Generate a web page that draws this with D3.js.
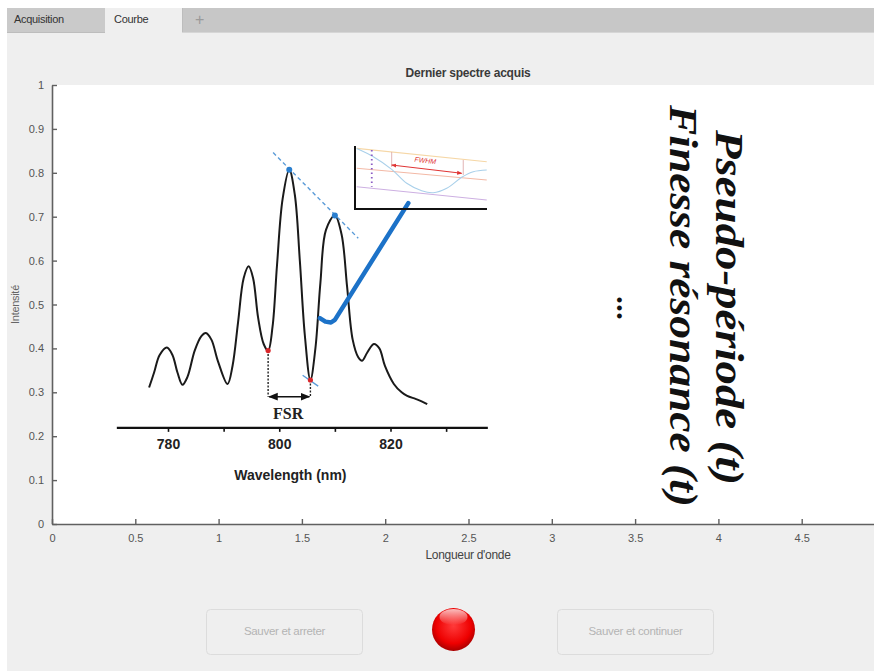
<!DOCTYPE html>
<html><head><meta charset="utf-8">
<script src="https://cdn.jsdelivr.net/npm/d3@7"></script>
<style>html,body{margin:0;padding:0;background:#fff;} svg{display:block;}</style>
</head><body><svg id="c" width="874" height="671"></svg>
<script>
// ---------- data ----------
const tabs = ["Acquisition", "Courbe", "+"];
const chartTitle = "Dernier spectre acquis";
const xLabel = "Longueur d'onde";
const yLabel = "Intensité";
const xTicks = [0, 0.5, 1, 1.5, 2, 2.5, 3, 3.5, 4, 4.5];
const yTicks = [0, 0.1, 0.2, 0.3, 0.4, 0.5, 0.6, 0.7, 0.8, 0.9, 1];

// inset spectrum (wavelength nm, intensity on main axis units)
const wavelength = [776.6, 777.5, 778.5, 779.8, 780.8, 781.7, 782.6, 783.5, 784.8, 786.0, 786.8, 787.8, 789.0, 790.7,
  791.6, 792.6, 793.6, 794.5, 795.3, 796.2, 797.2, 798.0, 798.8, 799.6, 800.6, 801.8, 802.8, 803.7, 804.6, 805.6,
  806.5, 807.4, 808.4, 810.0, 811.2, 812.2, 813.2, 814.2, 814.9, 815.8, 817.0, 818.0, 819.0, 820.6, 822.0, 823.0,
  824.5, 825.5, 826.6];
const intensity = [0.311, 0.345, 0.385, 0.402, 0.385, 0.345, 0.317, 0.335, 0.395, 0.428, 0.435, 0.420, 0.370, 0.319,
  0.360, 0.460, 0.560, 0.587, 0.560, 0.470, 0.410, 0.395, 0.450, 0.590, 0.740, 0.807, 0.750, 0.600, 0.430, 0.328,
  0.400, 0.550, 0.670, 0.703, 0.660, 0.540, 0.420, 0.380, 0.372, 0.390, 0.410, 0.400, 0.360, 0.319, 0.300, 0.292,
  0.285, 0.280, 0.273];
const insetTicks = [780, 790, 800, 810, 820, 830];
const insetTickLabels = ["780", "", "800", "", "820", ""];
const insetXLabel = "Wavelength (nm)";
const troughX = [798.0, 805.6];
const troughY = [0.395, 0.328];
const peakX = [801.8, 810.0];
const peakY = [0.807, 0.703];
const fsrLabel = "FSR";
const fwhmLabel = "FWHM";
const annotations = ["Pseudo-période (t)", "Finesse résonance (t)", "..."];
const buttons = ["Sauver et arreter", "Sauver et continuer"];

// ---------- drawing ----------
const svg = d3.select("#c");
const defs = svg.append("defs");

// background panel
svg.append("rect").attr("x", 0).attr("y", 0).attr("width", 874).attr("height", 671).attr("fill", "#ffffff");
svg.append("rect").attr("x", 7).attr("y", 8).attr("width", 867).attr("height", 663).attr("fill", "#efefef");
// tab bar
svg.append("rect").attr("x", 7).attr("y", 8).attr("width", 867).attr("height", 24).attr("fill", "#c7c7c7");
svg.append("rect").attr("x", 7).attr("y", 8).attr("width", 98).attr("height", 24).attr("fill", "#cacaca");
svg.append("rect").attr("x", 105).attr("y", 8).attr("width", 77).attr("height", 25).attr("fill", "#efefef");
svg.append("line").attr("x1", 182.5).attr("x2", 182.5).attr("y1", 8).attr("y2", 32).attr("stroke", "#bdbdbd");
svg.append("line").attr("x1", 7).attr("x2", 105).attr("y1", 32.5).attr("y2", 32.5).attr("stroke", "#bdbdbd");
svg.append("line").attr("x1", 182).attr("x2", 874).attr("y1", 32.5).attr("y2", 32.5).attr("stroke", "#d6d6d6");
const tabX = [14, 114, 195];
const tabColor = ["#333", "#333", "#9a9a9a"];
const tabSize = [11, 11, 16];
tabs.forEach((t, i) => {
  svg.append("text").attr("x", tabX[i]).attr("y", i === 2 ? 25 : 23).text(t)
    .attr("font-family", "Liberation Sans, Arial, sans-serif").attr("font-size", tabSize[i])
    .attr("fill", tabColor[i]).attr("letter-spacing", i === 2 ? 0 : -0.3);
});

// main axes
const x = d3.scaleLinear().domain([0, 5]).range([52, 885]);
const y = d3.scaleLinear().domain([0, 1]).range([524, 85]);
svg.append("rect").attr("x", x(0)).attr("y", y(1)).attr("width", 874 - x(0)).attr("height", y(0) - y(1)).attr("fill", "#ffffff");

svg.append("text").attr("x", 468).attr("y", 77).attr("text-anchor", "middle")
  .attr("font-family", "Liberation Sans, Arial, sans-serif").attr("font-size", 12).attr("font-weight", "bold")
  .attr("fill", "#3a3a3a").attr("letter-spacing", -0.2).text(chartTitle);

const fmt = d => String(d);
const gx = svg.append("g").attr("transform", `translate(0,${y(0)})`)
  .call(d3.axisBottom(x).tickValues(xTicks).tickSizeInner(-5).tickSizeOuter(0).tickPadding(8).tickFormat(fmt));
const gy = svg.append("g").attr("transform", `translate(${x(0)},0)`)
  .call(d3.axisLeft(y).tickValues(yTicks).tickSizeInner(-5).tickSizeOuter(0).tickPadding(8).tickFormat(fmt));
[gx, gy].forEach(g => {
  g.select(".domain").attr("stroke", "#606060").attr("stroke-width", 1.6);
  g.selectAll(".tick line").attr("stroke", "#606060").attr("stroke-width", 1.4);
  g.selectAll(".tick text").attr("fill", "#555").attr("font-size", 11)
    .attr("font-family", "Liberation Sans, Arial, sans-serif");
});
gx.selectAll(".tick text").attr("dy", "0.9em");

svg.append("text").attr("x", 468).attr("y", 559).attr("text-anchor", "middle")
  .attr("font-family", "Liberation Sans, Arial, sans-serif").attr("font-size", 12)
  .attr("fill", "#444").attr("letter-spacing", -0.3).text(xLabel);
svg.append("text").attr("transform", `translate(19,${y(0.5)}) rotate(-90)`).attr("text-anchor", "middle")
  .attr("font-family", "Liberation Sans, Arial, sans-serif").attr("font-size", 11)
  .attr("fill", "#666").attr("letter-spacing", -0.3).text(yLabel);

// ---------- inset spectrum ----------
const xi = d3.scaleLinear().domain([780, 820]).range([168, 390.5]);
const ins = svg.append("g");

// inset axis
const gi = ins.append("g").attr("transform", `translate(0,${y(0.219)})`)
  .call(d3.axisBottom(xi).tickValues(insetTicks).tickSizeInner(4).tickSizeOuter(0).tickPadding(7)
    .tickFormat((d, i) => insetTickLabels[i]));
gi.select(".domain").attr("d", `M${xi(770.8)},0H${xi(837.5)}`).attr("stroke", "#111").attr("stroke-width", 2.2);
gi.selectAll(".tick line").attr("stroke", "#111").attr("stroke-width", 1.6);
gi.selectAll(".tick text").attr("fill", "#222").attr("font-size", 14).attr("font-weight", "bold")
  .attr("font-family", "Liberation Sans, Arial, sans-serif");
ins.append("text").attr("x", xi(802)).attr("y", y(0.219) + 52).attr("text-anchor", "middle")
  .attr("font-family", "Liberation Sans, Arial, sans-serif").attr("font-size", 14).attr("font-weight", "bold")
  .attr("fill", "#222").text(insetXLabel);

// spectrum line
const pts = wavelength.map((w, i) => [w, intensity[i]]);
ins.append("path").datum(pts)
  .attr("d", d3.line().x(d => xi(d[0])).y(d => y(d[1])).curve(d3.curveCatmullRom.alpha(0.5)))
  .attr("fill", "none").attr("stroke", "#1a1a1a").attr("stroke-width", 2).attr("stroke-linejoin", "round");

// FSR construction
const fsrY = 0.29;
troughX.forEach((t, i) => {
  ins.append("line").attr("x1", xi(t)).attr("x2", xi(t)).attr("y1", y(troughY[i])).attr("y2", y(fsrY))
    .attr("stroke", "#222").attr("stroke-width", 1.4).attr("stroke-dasharray", "2,1.5");
});
defs.append("marker").attr("id", "ah").attr("viewBox", "0 0 10 10").attr("refX", 9).attr("refY", 5)
  .attr("markerWidth", 6).attr("markerHeight", 6).attr("orient", "auto-start-reverse")
  .append("path").attr("d", "M0,1L10,5L0,9z").attr("fill", "#111");
ins.append("line").attr("x1", xi(troughX[0]) + 1).attr("x2", xi(troughX[1]) - 1).attr("y1", y(fsrY)).attr("y2", y(fsrY))
  .attr("stroke", "#111").attr("stroke-width", 1.6)
  .attr("marker-start", "url(#ah)").attr("marker-end", "url(#ah)");
ins.append("text").attr("x", xi(801.6)).attr("y", y(0.253) + 6).attr("text-anchor", "middle")
  .attr("font-family", "Liberation Serif, Times New Roman, serif").attr("font-size", 16).attr("font-weight", "bold")
  .attr("fill", "#222").text(fsrLabel);

// dashed blue guide lines
ins.append("line").attr("x1", xi(798.9)).attr("y1", y(0.846)).attr("x2", xi(814.2)).attr("y2", y(0.651))
  .attr("stroke", "#5a9bd8").attr("stroke-width", 1.4).attr("stroke-dasharray", "4,3");
ins.append("line").attr("x1", xi(804.2)).attr("y1", y(0.339)).attr("x2", xi(807.0)).attr("y2", y(0.314))
  .attr("stroke", "#5a9bd8").attr("stroke-width", 1.3);

// dots
troughX.forEach((t, i) => ins.append("circle").attr("cx", xi(t)).attr("cy", y(troughY[i])).attr("r", 2.6).attr("fill", "#d8262a"));
peakX.forEach((t, i) => ins.append("circle").attr("cx", xi(t)).attr("cy", y(peakY[i])).attr("r", 3).attr("fill", "#2b7fcf"));

// callout hook
const hook = [[807.3, 0.469], [808.3, 0.461], [809.3, 0.459], [810.0, 0.465], [823.2, 0.731]];
ins.append("path").datum(hook)
  .attr("d", d3.line().x(d => xi(d[0])).y(d => y(d[1])))
  .attr("fill", "none").attr("stroke", "#1c72c8").attr("stroke-width", 4.5)
  .attr("stroke-linecap", "round").attr("stroke-linejoin", "round");

// ---------- mini FWHM picture ----------
const u = d3.scaleLinear().domain([0, 1]).range([355, 487]);
const w = d3.scaleLinear().domain([0, 1]).range([209, 146]);
const mini = svg.append("g");
const seg = (a, b, col, sw, dash) => mini.append("line").attr("x1", u(a[0])).attr("y1", w(a[1]))
  .attr("x2", u(b[0])).attr("y2", w(b[1])).attr("stroke", col).attr("stroke-width", sw)
  .attr("stroke-dasharray", dash || null);
seg([0.013, 0.963], [0.998, 0.751], "#f6d7a6", 1.1);
seg([0.013, 0.646], [0.998, 0.46], "#f3b9a6", 1.1);
seg([0.013, 0.354], [0.998, 0.143], "#cdb0e2", 1.1);
const miniCurve = [[0.013, 0.96], [0.139, 0.830], [0.278, 0.630], [0.392, 0.408], [0.505, 0.290], [0.593, 0.259],
  [0.695, 0.329], [0.808, 0.503], [0.896, 0.592], [0.998, 0.619]];
mini.append("path").datum(miniCurve)
  .attr("d", d3.line().x(d => u(d[0])).y(d => w(d[1])).curve(d3.curveCatmullRom))
  .attr("fill", "none").attr("stroke", "#a9d0ea").attr("stroke-width", 1.1);
seg([0.127, 0.937], [0.127, 0.354], "#8c5cc4", 1.8, "1.5,3");
seg([0.278, 0.905], [0.278, 0.667], "#d9a0a0", 0.8);
seg([0.82, 0.778], [0.82, 0.54], "#d9a0a0", 0.8);
defs.append("marker").attr("id", "rh").attr("viewBox", "0 0 10 10").attr("refX", 9).attr("refY", 5)
  .attr("markerWidth", 5).attr("markerHeight", 5).attr("orient", "auto-start-reverse")
  .append("path").attr("d", "M0,1L10,5L0,9z").attr("fill", "#e03434");
seg([0.278, 0.698], [0.808, 0.567], "#e03434", 1).attr("marker-start", "url(#rh)").attr("marker-end", "url(#rh)");
mini.append("text").attr("transform", `translate(${u(0.53)},${w(0.73)}) rotate(6.5)`).attr("text-anchor", "middle")
  .attr("font-family", "Liberation Sans, Arial, sans-serif").attr("font-size", 7).attr("font-style", "italic")
  .attr("fill", "#e03434").text(fwhmLabel);
mini.append("path").attr("d", `M${u(0)},${w(1)}V${w(0)}H${u(1)}`).attr("fill", "none")
  .attr("stroke", "#111").attr("stroke-width", 2);

// ---------- rotated annotations ----------
const annX = [716, 670, 617];
const annY = [130, 105, 296];
const annLen = [355, 402, 24];
const annSize = [40, 40, 30];
annotations.forEach((t, i) => {
  svg.append("text").attr("transform", `translate(${annX[i]},${annY[i]}) rotate(90)`)
    .attr("font-family", "Liberation Serif, Times New Roman, serif").attr("font-style", i < 2 ? "italic" : "normal")
    .attr("font-weight", "bold").attr("font-size", annSize[i]).attr("fill", "#111")
    .attr("textLength", annLen[i]).attr("lengthAdjust", "spacingAndGlyphs").text(t);
});

// ---------- buttons ----------
const btnX = [206.5, 557.5];
buttons.forEach((b, i) => {
  svg.append("rect").attr("x", btnX[i]).attr("y", 609.5).attr("width", 156).attr("height", 45).attr("rx", 4)
    .attr("fill", "#efefef").attr("stroke", "#dcdcdc").attr("stroke-width", 1);
  svg.append("text").attr("x", btnX[i] + 78).attr("y", 635).attr("text-anchor", "middle")
    .attr("font-family", "Liberation Sans, Arial, sans-serif").attr("font-size", 11.5)
    .attr("fill", "#b4b4b4").attr("letter-spacing", -0.3).text(b);
});
const rg = defs.append("radialGradient").attr("id", "rg").attr("cx", "50%").attr("cy", "42%").attr("r", "58%");
rg.append("stop").attr("offset", "0%").attr("stop-color", "#ff3a3a");
rg.append("stop").attr("offset", "70%").attr("stop-color", "#ee0000");
rg.append("stop").attr("offset", "100%").attr("stop-color", "#a80000");
svg.append("circle").attr("cx", 453.5).attr("cy", 629.5).attr("r", 21.5).attr("fill", "url(#rg)");
const hg = defs.append("linearGradient").attr("id", "hg").attr("x1", 0).attr("y1", 0).attr("x2", 0).attr("y2", 1);
hg.append("stop").attr("offset", "0%").attr("stop-color", "#ffffff").attr("stop-opacity", 0.75);
hg.append("stop").attr("offset", "100%").attr("stop-color", "#ffffff").attr("stop-opacity", 0);
svg.append("ellipse").attr("cx", 453.5).attr("cy", 617).attr("rx", 14).attr("ry", 8).attr("fill", "url(#hg)");
</script></body></html>
